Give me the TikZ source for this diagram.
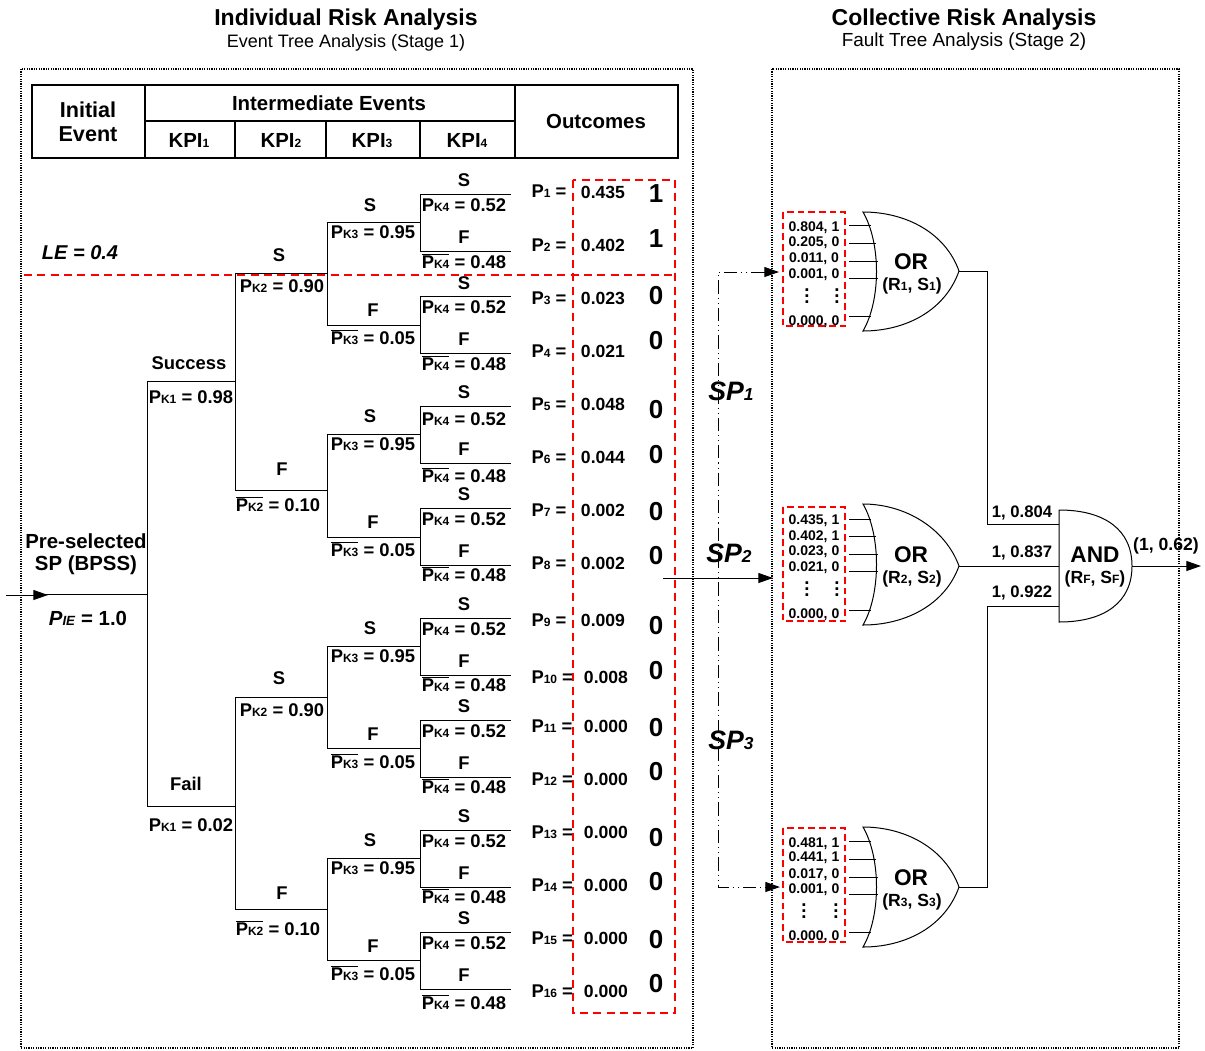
\documentclass[tikz,border=0pt]{standalone}
\usepackage{fontspec}
\setmainfont{Liberation Sans}
\usetikzlibrary{arrows.meta}

\newcommand{\smtxt}[2][9]{{\fontsize{#1}{#1}\selectfont #2}}
\newcommand{\pk}[1]{P\smtxt{K#1}}
\newcommand{\pkbar}[1]{$\overline{\hbox{\pk{#1}}}$}
\newcommand{\dotcol}{\vbox{\baselineskip4.5pt\lineskiplimit0pt\hbox{.}\hbox{.}\hbox{.}}}

\tikzset{every picture/.style={line width=0.75pt},
  every node/.style={inner sep=0pt},
  titletxt/.style={font=\bfseries\fontsize{17.25}{20}\selectfont,text height=12.4pt,text depth=0pt},
  subtxt/.style={font=\fontsize{13.5}{16}\selectfont,text height=9.7pt,text depth=0pt},
  headtxt/.style={font=\bfseries\fontsize{15.3}{18}\selectfont,text height=11pt,text depth=0pt},
  treetxt/.style={font=\bfseries\fontsize{13.8}{16}\selectfont,text height=10pt,text depth=0pt},
  valtxt/.style={font=\bfseries\fontsize{13.2}{16}\selectfont,text height=9.5pt,text depth=0pt},
  bittxt/.style={font=\bfseries\fontsize{19.5}{22}\selectfont,text height=14pt,text depth=0pt},
  sptxt/.style={font=\bfseries\itshape\fontsize{20}{22}\selectfont,text height=14.3pt,text depth=0pt},
  gatetxt/.style={font=\bfseries\fontsize{17}{20}\selectfont,text height=12.2pt,text depth=0pt},
  mintxt/.style={font=\bfseries\fontsize{10.5}{12}\selectfont,text height=7.5pt,text depth=0pt},
  dottxt/.style={font=\bfseries\fontsize{14}{14}\selectfont},
  wiretxt/.style={font=\bfseries\fontsize{12.5}{14}\selectfont,text height=9pt,text depth=0pt},
  panelbox/.style={line width=0.9pt,dash pattern=on 0.9pt off 0.9pt},
  reddash/.style={draw=red,line width=1pt,dash pattern=on 6pt off 4pt},
  redsmall/.style={draw=red,line width=1pt,dash pattern=on 5pt off 3pt},
  headtip/.style={-{Triangle[length=11pt,width=7.5pt]}},
  sptrack/.style={{Triangle[length=11pt,width=7.5pt]}-{Triangle[length=11pt,width=7.5pt]},dash pattern=on 10pt off 3pt on 0.8pt off 3pt on 0.8pt off 3pt}}

\begin{document}
\begin{tikzpicture}[x=0.75pt,y=0.75pt,yscale=-1,xscale=1]
\useasboundingbox (0,0) rectangle (1205,1050);

%Shape: Rectangle [panels]
\draw [panelbox] (21,69) rectangle (693,1048);
\draw [panelbox] (772,69) rectangle (1179,1048);

% Text Node
\draw (346,17) node [titletxt] (titleL) {Individual Risk Analysis};
\draw (346,41) node [subtxt] (stageL) {Event Tree Analysis (Stage 1)};
\draw (964,17) node [titletxt] (titleR) {Collective Risk Analysis};
\draw (964,40) node [subtxt,font=\fontsize{14.2}{16}\selectfont] (stageR) {Fault Tree Analysis (Stage 2)};

%Shape: Table
\draw [line width=1pt] (32,85) rectangle (678,158);
\draw [line width=1pt] (145,85) -- (145,158) (515,85) -- (515,158) (145,121) -- (515,121);
\draw [line width=1pt] (235,121) -- (235,158) (326,121) -- (326,158) (420,121) -- (420,158);

% Text Node
\draw (88,110) node [headtxt,font=\bfseries\fontsize{16.2}{18}\selectfont] (initA) {Initial};
\draw (88,134) node [headtxt,font=\bfseries\fontsize{16.2}{18}\selectfont] (initB) {Event};
\draw (329,103) node [headtxt] (interm) {Intermediate Events};
\draw (596,121) node [headtxt] (outc) {Outcomes};
\draw (189,140) node [headtxt] (kpiA) {KPI\smtxt{1}};
\draw (281,140) node [headtxt] (kpiB) {KPI\smtxt{2}};
\draw (372,140) node [headtxt] (kpiC) {KPI\smtxt{3}};
\draw (467,140) node [headtxt] (kpiD) {KPI\smtxt{4}};

%Shape: Polyline [tree, KPI4]
\draw (511,194) -- (420,194) -- (420,251) -- (511,251);
\draw (511,296) -- (420,296) -- (420,353) -- (511,353);
\draw (511,406) -- (420,406) -- (420,463) -- (511,463);
\draw (511,508) -- (420,508) -- (420,565) -- (511,565);
\draw (511,618) -- (420,618) -- (420,675) -- (511,675);
\draw (511,720) -- (420,720) -- (420,777) -- (511,777);
\draw (511,830) -- (420,830) -- (420,887) -- (511,887);
\draw (511,932) -- (420,932) -- (420,989) -- (511,989);
%Shape: Polyline [tree, KPI3]
\draw (420,222) -- (327,222) -- (327,325) -- (420,325);
\draw (420,434) -- (327,434) -- (327,537) -- (420,537);
\draw (420,646) -- (327,646) -- (327,748) -- (420,748);
\draw (420,858) -- (327,858) -- (327,960) -- (420,960);
%Shape: Polyline [tree, KPI2]
\draw (327,273) -- (235,273) -- (235,490) -- (327,490);
\draw (327,697) -- (235,697) -- (235,909) -- (327,909);
%Shape: Polyline [tree, KPI1]
\draw (235,381) -- (147,381) -- (147,806) -- (235,806);
\draw (46,594) -- (147,594);
\coordinate (startIn) at (6,595);
\coordinate (startTip) at (48,595);
\draw [headtip] (startIn) -- (startTip);

% Text Node
\draw (86,541) node [headtxt] (selA) {Pre-selected};
\draw (86,563) node [headtxt] (selB) {SP (BPSS)};
\draw (88,618) node [headtxt] (pie) {\textit{P\smtxt[10]{IE}} = 1.0};
\draw (80,252) node [headtxt,font=\bfseries\itshape\fontsize{15}{18}\selectfont] (levelE) {LE = 0.4};
\draw (189,363) node [treetxt] (s1a) {Success};
\draw (191,397) node [treetxt] (p1a) {\pk{1} = 0.98};
\draw (186,784) node [treetxt] (f1a) {Fail};
\draw (191,825) node [treetxt] (q1a) {\pk{1} = 0.02};

% Text Node
\draw (279,255) node [treetxt] (s2a) {S};
\draw (282,286) node [treetxt] (p2a) {\pk{2} = 0.90};
\draw (282,469) node [treetxt] (f2a) {F};
\draw (278,505) node [treetxt] (q2a) {\pkbar{2} = 0.10};
\draw (279,678) node [treetxt] (s2b) {S};
\draw (282,710) node [treetxt] (p2b) {\pk{2} = 0.90};
\draw (282,893) node [treetxt] (f2b) {F};
\draw (278,929) node [treetxt] (q2b) {\pkbar{2} = 0.10};

% Text Node
\draw (370,205) node [treetxt] (s3a) {S};
\draw (373,232) node [treetxt] (p3a) {\pk{3} = 0.95};
\draw (373,310) node [treetxt] (f3a) {F};
\draw (373,338) node [treetxt] (q3a) {\pkbar{3} = 0.05};
\draw (370,416) node [treetxt] (s3b) {S};
\draw (373,444) node [treetxt] (p3b) {\pk{3} = 0.95};
\draw (373,522) node [treetxt] (f3b) {F};
\draw (373,550) node [treetxt] (q3b) {\pkbar{3} = 0.05};
\draw (370,628) node [treetxt] (s3c) {S};
\draw (373,656) node [treetxt] (p3c) {\pk{3} = 0.95};
\draw (373,734) node [treetxt] (f3c) {F};
\draw (373,762) node [treetxt] (q3c) {\pkbar{3} = 0.05};
\draw (370,840) node [treetxt] (s3d) {S};
\draw (373,868) node [treetxt] (p3d) {\pk{3} = 0.95};
\draw (373,946) node [treetxt] (f3d) {F};
\draw (373,974) node [treetxt] (q3d) {\pkbar{3} = 0.05};

% Text Node
\draw (464,180) node [treetxt] (s4a) {S};
\draw (464,205) node [treetxt] (p4a) {\pk{4} = 0.52};
\draw (464,237) node [treetxt] (f4a) {F};
\draw (464,262) node [treetxt] (q4a) {\pkbar{4} = 0.48};
\draw (464,283) node [treetxt] (s4b) {S};
\draw (464,307) node [treetxt] (p4b) {\pk{4} = 0.52};
\draw (464,339) node [treetxt] (f4b) {F};
\draw (464,364) node [treetxt] (q4b) {\pkbar{4} = 0.48};
\draw (464,392) node [treetxt] (s4c) {S};
\draw (464,419) node [treetxt] (p4c) {\pk{4} = 0.52};
\draw (464,449) node [treetxt] (f4c) {F};
\draw (464,476) node [treetxt] (q4c) {\pkbar{4} = 0.48};
\draw (464,494) node [treetxt] (s4d) {S};
\draw (464,519) node [treetxt] (p4d) {\pk{4} = 0.52};
\draw (464,551) node [treetxt] (f4d) {F};
\draw (464,575) node [treetxt] (q4d) {\pkbar{4} = 0.48};
\draw (464,604) node [treetxt] (s4e) {S};
\draw (464,629) node [treetxt] (p4e) {\pk{4} = 0.52};
\draw (464,661) node [treetxt] (f4e) {F};
\draw (464,685) node [treetxt] (q4e) {\pkbar{4} = 0.48};
\draw (464,706) node [treetxt] (s4f) {S};
\draw (464,731) node [treetxt] (p4f) {\pk{4} = 0.52};
\draw (464,763) node [treetxt] (f4f) {F};
\draw (464,787) node [treetxt] (q4f) {\pkbar{4} = 0.48};
\draw (464,816) node [treetxt] (s4g) {S};
\draw (464,841) node [treetxt] (p4g) {\pk{4} = 0.52};
\draw (464,873) node [treetxt] (f4g) {F};
\draw (464,897) node [treetxt] (q4g) {\pkbar{4} = 0.48};
\draw (464,918) node [treetxt] (s4h) {S};
\draw (464,943) node [treetxt] (p4h) {\pk{4} = 0.52};
\draw (464,975) node [treetxt] (f4h) {F};
\draw (464,1003) node [treetxt] (q4h) {\pkbar{4} = 0.48};

% Text Node
\draw (531,191) node [treetxt,anchor=west] (pn1) {P\smtxt{1} =};
\draw (531,245) node [treetxt,anchor=west] (pn2) {P\smtxt{2} =};
\draw (531,298) node [treetxt,anchor=west] (pn3) {P\smtxt{3} =};
\draw (531,351) node [treetxt,anchor=west] (pn4) {P\smtxt{4} =};
\draw (531,404) node [treetxt,anchor=west] (pn5) {P\smtxt{5} =};
\draw (531,457) node [treetxt,anchor=west] (pn6) {P\smtxt{6} =};
\draw (531,510) node [treetxt,anchor=west] (pn7) {P\smtxt{7} =};
\draw (531,563) node [treetxt,anchor=west] (pn8) {P\smtxt{8} =};
\draw (531,620) node [treetxt,anchor=west] (pn9) {P\smtxt{9} =};
\draw (531,677) node [treetxt,anchor=west] (pn10) {P\smtxt{10} =};
\draw (531,726) node [treetxt,anchor=west] (pn11) {P\smtxt{11} =};
\draw (531,779) node [treetxt,anchor=west] (pn12) {P\smtxt{12} =};
\draw (531,832) node [treetxt,anchor=west] (pn13) {P\smtxt{13} =};
\draw (531,885) node [treetxt,anchor=west] (pn14) {P\smtxt{14} =};
\draw (531,938) node [treetxt,anchor=west] (pn15) {P\smtxt{15} =};
\draw (531,991) node [treetxt,anchor=west] (pn16) {P\smtxt{16} =};

% Text Node
\draw (603,192) node [valtxt] (val1) {0.435};
\draw (603,245) node [valtxt] (val2) {0.402};
\draw (603,298) node [valtxt] (val3) {0.023};
\draw (603,351) node [valtxt] (val4) {0.021};
\draw (603,404) node [valtxt] (val5) {0.048};
\draw (603,457) node [valtxt] (val6) {0.044};
\draw (603,510) node [valtxt] (val7) {0.002};
\draw (603,563) node [valtxt] (val8) {0.002};
\draw (603,620) node [valtxt] (val9) {0.009};
\draw (606,677) node [valtxt] (val10) {0.008};
\draw (606,726) node [valtxt] (val11) {0.000};
\draw (606,779) node [valtxt] (val12) {0.000};
\draw (606,832) node [valtxt] (val13) {0.000};
\draw (606,885) node [valtxt] (val14) {0.000};
\draw (606,938) node [valtxt] (val15) {0.000};
\draw (606,991) node [valtxt] (val16) {0.000};

% Text Node
\draw (656,193) node [bittxt] (bit1) {1};
\draw (656,238) node [bittxt] (bit2) {1};
\draw (656,295) node [bittxt] (bit3) {0};
\draw (656,340) node [bittxt] (bit4) {0};
\draw (656,409) node [bittxt] (bit5) {0};
\draw (656,454) node [bittxt] (bit6) {0};
\draw (656,511) node [bittxt] (bit7) {0};
\draw (656,555) node [bittxt] (bit8) {0};
\draw (656,625) node [bittxt] (bit9) {0};
\draw (656,670) node [bittxt] (bit10) {0};
\draw (656,727) node [bittxt] (bit11) {0};
\draw (656,771) node [bittxt] (bit12) {0};
\draw (656,837) node [bittxt] (bit13) {0};
\draw (656,881) node [bittxt] (bit14) {0};
\draw (656,939) node [bittxt] (bit15) {0};
\draw (656,983) node [bittxt] (bit16) {0};

%Shape: Rectangle [red limits]
\draw [reddash] (24,275) -- (675,275);
\draw [reddash] (573,180) rectangle (675,1013);

% SP links
\coordinate (riskOut) at (663,578);
\coordinate (riskIn) at (773,578);
\coordinate (trackA) at (779,272);
\coordinate (trackC) at (780,887);
\draw [headtip] (riskOut) -- (riskIn);
\draw [sptrack] (trackA) -- (718,272) -- (718,887) -- (trackC);
\draw (731,391) node [sptxt] (spA) {SP\smtxt[13]{1}};
\draw (729,553) node [sptxt] (spB) {SP\smtxt[13]{2}};
\draw (731,740) node [sptxt] (spC) {SP\smtxt[13]{3}};

%Shape: Rectangle [gate inputs]
\draw [redsmall] (783,212) rectangle (845,326);
\draw [redsmall] (783,507) rectangle (845,621);
\draw [redsmall] (783,828) rectangle (845,942);

%Shape: Lines [inputs]
\draw (849,225) -- (871,225) (849,243) -- (876,243) (849,261) -- (878,261) (849,278) -- (878,278) (849,316) -- (871,316);
\draw (849,519) -- (871,519) (849,536) -- (876,536) (849,554) -- (878,554) (849,571) -- (878,571) (849,610) -- (871,610);
\draw (849,841) -- (871,841) (849,859) -- (876,859) (849,877) -- (878,877) (849,894) -- (878,894) (849,932) -- (871,932);

%Shape: OR gates
\coordinate (orTipA) at (959,271);
\coordinate (orTipB) at (959,566);
\coordinate (orTipC) at (959,887);
\draw (863,212) .. controls (905,212) and (945,232) .. (orTipA) .. controls (945,311) and (905,331) .. (863,331) .. controls (881,300) and (881,243) .. (863,212) -- cycle;
\draw (863,504) .. controls (905,504) and (945,528) .. (orTipB) .. controls (945,605) and (905,625) .. (863,625) .. controls (881,594) and (881,535) .. (863,504) -- cycle;
\draw (863,827) .. controls (905,827) and (945,848) .. (orTipC) .. controls (945,927) and (905,947) .. (863,947) .. controls (881,916) and (881,858) .. (863,827) -- cycle;

%Shape: AND gate
\coordinate (andTip) at (1132,566);
\coordinate (andIn) at (1059,566);
\draw (1059,510) .. controls (1105,510) and (1132,530) .. (andTip) .. controls (1132,602) and (1105,622) .. (1059,622) -- cycle;

%Shape: Polyline [wires]
\coordinate (andUp) at (1059,524);
\coordinate (andLow) at (1059,606);
\coordinate (outEnd) at (1201,566);
\draw (orTipA) -- (987,271) -- (987,524) -- (andUp);
\draw (orTipB) -- (andIn);
\draw (orTipC) -- (987,887) -- (987,606) -- (andLow);
\draw [headtip] (andTip) -- (outEnd);

% Text Node
\draw (911,261) node [gatetxt] (orA) {OR};
\draw (912,284) node [valtxt] (rsA) {(R\smtxt{1}, S\smtxt{1})};
\draw (911,554) node [gatetxt] (orB) {OR};
\draw (912,577) node [valtxt] (rsB) {(R\smtxt{2}, S\smtxt{2})};
\draw (911,877) node [gatetxt] (orC) {OR};
\draw (912,900) node [valtxt] (rsC) {(R\smtxt{3}, S\smtxt{3})};
\draw (1095,554) node [gatetxt] (andT) {AND};
\draw (1095,577) node [valtxt] (rsF) {(R\smtxt{F}, S\smtxt{F})};
\draw (1022,511) node [wiretxt] (wireA) {1, 0.804};
\draw (1022,551) node [wiretxt] (wireB) {1, 0.837};
\draw (1022,591) node [wiretxt] (wireC) {1, 0.922};
\draw (1166,544) node [valtxt] (finalT) {(1, 0.62)};

% Text Node
\draw (814,226) node [mintxt] (inA1) {0.804, 1};
\draw (814,241) node [mintxt] (inA2) {0.205, 0};
\draw (814,257) node [mintxt] (inA3) {0.011, 0};
\draw (814,273) node [mintxt] (inA4) {0.001, 0};
\draw (807,296) node [dottxt] (dotA1) {\dotcol};
\draw (837,296) node [dottxt] (dotA2) {\dotcol};
\draw (814,320) node [mintxt] (inA5) {0.000, 0};
\draw (814,519) node [mintxt] (inB1) {0.435, 1};
\draw (814,535) node [mintxt] (inB2) {0.402, 1};
\draw (814,550) node [mintxt] (inB3) {0.023, 0};
\draw (814,566) node [mintxt] (inB4) {0.021, 0};
\draw (807,589) node [dottxt] (dotB1) {\dotcol};
\draw (837,589) node [dottxt] (dotB2) {\dotcol};
\draw (814,613) node [mintxt] (inB5) {0.000, 0};
\draw (814,842) node [mintxt] (inC1) {0.481, 1};
\draw (814,856) node [mintxt] (inC2) {0.441, 1};
\draw (814,873) node [mintxt] (inC3) {0.017, 0};
\draw (814,888) node [mintxt] (inC4) {0.001, 0};
\draw (804,911) node [dottxt] (dotC1) {\dotcol};
\draw (836,911) node [dottxt] (dotC2) {\dotcol};
\draw (814,935) node [mintxt] (inC5) {0.000, 0};

\end{tikzpicture}
\end{document}
